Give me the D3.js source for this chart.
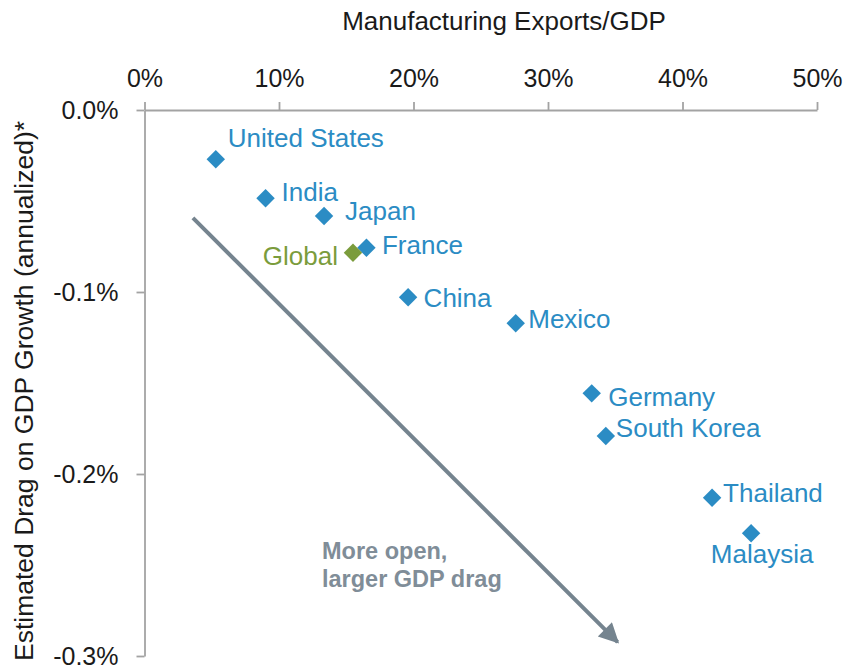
<!DOCTYPE html>
<html><head><meta charset="utf-8">
<script src="https://cdn.jsdelivr.net/npm/d3@7"></script>
<style>html,body{margin:0;padding:0;background:#fff}svg{display:block;font-family:Arial,"Liberation Sans",sans-serif}</style>
</head><body>
<svg id="chart" width="844" height="668"></svg>
<script>
// ---- data ----
const countries = ["United States","India","Japan","France","Global","China","Mexico","Germany","South Korea","Thailand","Malaysia"];
const exportsShare = [5.3, 9.0, 13.35, 16.5, 15.5, 19.6, 27.6, 33.25, 34.3, 42.2, 45.1]; // % of GDP
const gdpDrag = [-0.0271, -0.0485, -0.0582, -0.0757, -0.0784, -0.1029, -0.1172, -0.1557, -0.1791, -0.213, -0.2326]; // %
const xTicks = [0, 10, 20, 30, 40, 50];
const yTicks = [0, -0.1, -0.2, -0.3];
const xTickLabels = ["0%","10%","20%","30%","40%","50%"];
const yTickLabels = ["0.0%","-0.1%","-0.2%","-0.3%"];
const arrowStart = [3.6, -0.0593];
const arrowEnd = [35.4, -0.294];
const annotationLines = ["More open,", "larger GDP drag"];

// ---- layout ----
const svg = d3.select("#chart");
const x = d3.scaleLinear().domain([0, 50]).range([144.5, 817]);
const y = d3.scaleLinear().domain([0, -0.3]).range([110, 656]);
const blue = "#2b8cc4", green = "#7b9c3c", axisCol = "#a3a3a3";

// label offsets (dx, dy baseline, anchor)
const labelPos = {
  "United States": [12, -12, "start"],
  "India": [16, 2.5, "start"],
  "Japan": [21, 4.5, "start"],
  "France": [15.5, 6.5, "start"],
  "Global": [-15, 12.5, "end"],
  "China": [15.5, 9.5, "start"],
  "Mexico": [12.5, 5, "start"],
  "Germany": [16.5, 12.5, "start"],
  "South Korea": [10, 1, "start"],
  "Thailand": [11, 4, "start"],
  "Malaysia": [11, 30, "middle"]
};

// axes
const xAxis = d3.axisTop(x).tickValues(xTicks).tickFormat((d,i)=>xTickLabels[i]).tickSize(8).tickSizeOuter(0).tickPadding(15);
const yAxis = d3.axisLeft(y).tickValues(yTicks).tickFormat((d,i)=>yTickLabels[i]).tickSize(8).tickSizeOuter(0).tickPadding(18);

const gx = svg.append("g").attr("transform", `translate(0,${y(0)})`).call(xAxis);
const gy = svg.append("g").attr("transform", `translate(${x(0)},0)`).call(yAxis);
[gx, gy].forEach(g => {
  g.select(".domain").attr("stroke", axisCol).attr("stroke-width", 1.8);
  g.selectAll(".tick line").attr("stroke", axisCol).attr("stroke-width", 1.8);
  g.selectAll(".tick text").attr("fill", "#1a1a1a").attr("font-size", 25).attr("font-family", "Arial, 'Liberation Sans', sans-serif");
});

// axis titles
svg.append("text").attr("x", 504).attr("y", 30).attr("text-anchor", "middle")
  .attr("font-size", 26).attr("fill", "#1a1a1a").text("Manufacturing Exports/GDP");
svg.append("text").attr("transform", "translate(33,391) rotate(-90)").attr("text-anchor", "middle")
  .attr("font-size", 26.5).attr("fill", "#1a1a1a").text("Estimated Drag on GDP Growth (annualized)*");

// arrow
const defs = svg.append("defs");
defs.append("marker").attr("id", "ah").attr("viewBox", "0 0 10 10").attr("refX", 9).attr("refY", 5)
  .attr("markerWidth", 5.6).attr("markerHeight", 5).attr("markerUnits", "strokeWidth").attr("orient", "auto")
  .append("path").attr("d", "M0,0 L10,5 L0,10 Z").attr("fill", "#75848f");
svg.append("line")
  .attr("x1", x(arrowStart[0])).attr("y1", y(arrowStart[1]))
  .attr("x2", x(arrowEnd[0]) - 3).attr("y2", y(arrowEnd[1]) - 3)
  .attr("stroke", "#75848f").attr("stroke-width", 4).attr("marker-end", "url(#ah)");

const ann = svg.append("text").attr("font-size", 23.5).attr("font-weight", "bold").attr("fill", "#808d98");
annotationLines.forEach((t, i) => ann.append("tspan").attr("x", 322).attr("y", 559 + i * 28).text(t));

// points
const data = countries.map((c, i) => ({name: c, xv: exportsShare[i], yv: gdpDrag[i]}));
const sym = d3.symbol().type(d3.symbolSquare).size(170);
svg.append("g").selectAll("path").data(data).join("path")
  .attr("d", sym)
  .attr("transform", d => `translate(${x(d.xv)},${y(d.yv)}) rotate(45)`)
  .attr("fill", d => d.name === "Global" ? green : blue);

svg.append("g").selectAll("text").data(data).join("text")
  .attr("x", d => x(d.xv) + labelPos[d.name][0])
  .attr("y", d => y(d.yv) + labelPos[d.name][1])
  .attr("text-anchor", d => labelPos[d.name][2])
  .attr("font-size", 26)
  .attr("fill", d => d.name === "Global" ? green : blue)
  .text(d => d.name);
</script>
</body></html>
